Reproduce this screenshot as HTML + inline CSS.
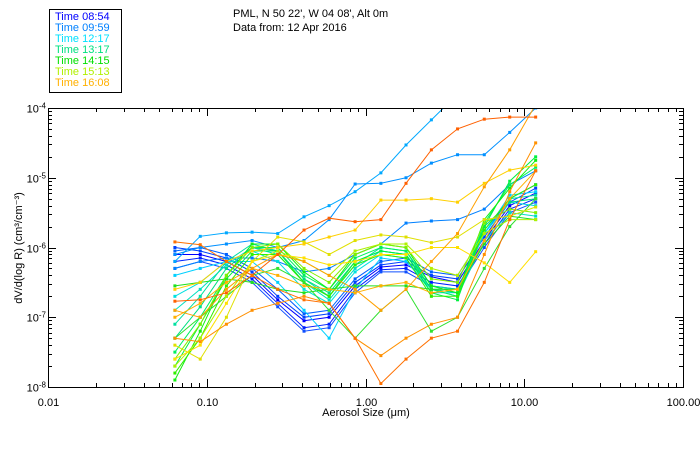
<!DOCTYPE html>
<html><head><meta charset="utf-8"><style>
body{margin:0;background:#fff;width:700px;height:450px;overflow:hidden;font-family:"Liberation Sans",sans-serif}
svg text{font-family:"Liberation Sans",sans-serif;font-size:11px}
</style></head><body>
<svg id="chart" width="700" height="450">
<g>
<rect x="49.5" y="9.5" width="72" height="83" fill="#fff" stroke="#000"/>
<text x="55" y="20" fill="#0000ff">Time 08:54</text>
<text x="55" y="31" fill="#0080ff">Time 09:59</text>
<text x="55" y="42" fill="#00e0ff">Time 12:17</text>
<text x="55" y="53" fill="#00e080">Time 13:17</text>
<text x="55" y="64" fill="#00e000">Time 14:15</text>
<text x="55" y="75" fill="#b0f000">Time 15:13</text>
<text x="55" y="86" fill="#ffb000">Time 16:08</text>
</g>
<text x="233" y="17">PML, N 50 22', W 04 08', Alt 0m</text>
<text x="233" y="31">Data from: 12 Apr 2016</text>
<defs><clipPath id="pc"><rect x="48" y="108" width="635" height="279"/></clipPath></defs>
<g id="series" clip-path="url(#pc)"></g>
<g id="axes"></g>
<text x="366" y="416" text-anchor="middle">Aerosol Size (μm)</text>
<text transform="translate(22,248) rotate(-90)" text-anchor="middle">dV/d(log R) (cm³/cm⁻³)</text>
</svg>
<script>
const sizes=[0.063,0.091,0.133,0.193,0.28,0.41,0.59,0.86,1.25,1.8,2.6,3.8,5.6,8.1,11.8];
const xTicks=[0.01,0.1,1,10,100];
const xTickLabels=["0.01","0.10","1.00","10.00","100.00"];
const yTickExp=[-8,-7,-6,-5,-4];
const colors=["#0000ff","#0020ff","#0040ff","#1050ff","#0060ff","#00a8ff","#0090ff","#0080ff","#00d0ff","#00e0e0","#00e0c0","#00e0a0","#00e080","#00f060","#00f040","#10f010","#30f000","#20e020","#30e030","#80f000","#b0f000","#e0e000","#ffe000","#ffd000","#ffb000","#ffa000","#ff9000","#ff6000","#ff7000"];
const logValues=[
[-6.1,-6.1,-6.2,-6.4,-6.75,-7.05,-7.0,-6.55,-6.28,-6.25,-6.42,-6.5,-5.9,-5.4,-5.22],
[-6.2,-6.15,-6.25,-6.45,-6.8,-7.15,-7.1,-6.6,-6.32,-6.3,-6.5,-6.55,-5.95,-5.45,-5.3],
[-6.0,-6.05,-6.15,-6.35,-6.7,-7.0,-6.95,-6.5,-6.25,-6.2,-6.4,-6.45,-5.85,-5.35,-5.15],
[-6.3,-6.2,-6.3,-6.5,-6.85,-7.2,-7.15,-6.65,-6.35,-6.35,-6.55,-6.6,-6.0,-5.5,-5.35],
[-6.05,-6.0,-6.1,-6.3,-6.6,-6.95,-6.9,-6.45,-6.2,-6.15,-6.35,-6.4,-5.8,-5.3,-5.1],
[-6.2,-5.84,-5.79,-5.78,-5.8,-5.56,-5.4,-5.2,-4.93,-4.53,-4.17,-3.8,-3.5,-3.2,-3.0],
[-6.1,-6.0,-5.95,-5.9,-6.0,-5.9,-5.6,-5.09,-5.08,-5.0,-4.79,-4.67,-4.67,-4.35,-4.0],
[-6.3,-6.2,-6.15,-6.15,-6.2,-6.35,-6.3,-6.1,-5.95,-5.65,-5.62,-5.6,-5.45,-5.1,-4.9],
[-6.4,-6.3,-6.2,-6.2,-6.5,-6.9,-7.3,-6.6,-6.15,-6.2,-6.6,-6.6,-5.8,-5.25,-5.2],
[-6.7,-6.5,-6.2,-6.05,-6.2,-6.6,-6.8,-6.35,-6.1,-6.15,-6.65,-6.65,-5.8,-5.35,-5.4],
[-6.9,-6.6,-6.25,-6.0,-6.1,-6.5,-6.75,-6.3,-6.05,-6.1,-6.6,-6.7,-5.9,-5.5,-5.55],
[-7.1,-6.7,-6.2,-5.95,-6.05,-6.45,-6.7,-6.25,-6.0,-6.05,-6.55,-6.6,-5.75,-5.3,-5.25],
[-7.3,-6.85,-6.3,-6.0,-6.05,-6.45,-6.65,-6.2,-6.05,-6.1,-6.6,-6.65,-5.7,-5.35,-5.3],
[-7.5,-7.0,-6.4,-6.0,-6.0,-6.4,-6.6,-6.15,-6.0,-6.05,-6.6,-6.7,-5.65,-5.1,-4.85],
[-7.7,-7.1,-6.45,-6.05,-6.05,-6.5,-6.7,-6.2,-6.05,-6.1,-6.65,-6.75,-5.7,-5.05,-4.7],
[-7.9,-7.2,-6.4,-5.95,-5.95,-6.35,-6.6,-6.1,-5.95,-6.0,-6.55,-6.65,-5.6,-5.15,-4.75],
[-7.8,-7.3,-6.55,-6.1,-6.1,-6.5,-6.7,-6.25,-6.1,-6.15,-6.7,-6.7,-5.75,-5.3,-5.1],
[-6.55,-6.5,-6.45,-6.5,-6.6,-6.65,-6.6,-6.55,-6.55,-6.55,-6.6,-6.6,-5.95,-5.55,-5.6],
[-7.3,-7.0,-6.7,-6.4,-6.3,-6.5,-6.9,-7.3,-6.9,-6.6,-7.2,-7.0,-6.3,-5.7,-5.3],
[-7.6,-7.1,-6.4,-6.0,-5.95,-6.3,-6.5,-6.1,-5.95,-6.0,-6.45,-6.5,-5.65,-5.45,-5.5],
[-7.7,-7.3,-6.7,-6.2,-6.05,-6.2,-6.4,-6.05,-5.95,-5.95,-6.3,-6.4,-5.8,-5.6,-5.6],
[-7.4,-7.6,-7.0,-6.2,-5.85,-5.92,-6.1,-5.9,-5.82,-5.85,-5.93,-5.85,-5.6,-5.55,-5.42],
[-7.6,-7.4,-6.8,-6.2,-6.1,-6.15,-6.25,-6.2,-6.1,-6.1,-6.0,-6.0,-6.22,-6.5,-6.06],
[-6.6,-6.5,-6.2,-6.05,-6.0,-5.95,-5.85,-5.75,-5.32,-5.32,-5.3,-5.35,-5.08,-4.89,-4.82],
[-7.0,-6.8,-6.5,-6.3,-6.4,-6.55,-6.6,-6.65,-6.55,-6.5,-6.65,-6.6,-5.9,-5.3,-4.9],
[-6.9,-7.0,-6.6,-6.3,-6.1,-6.2,-6.4,-6.6,-6.9,-6.6,-6.2,-5.8,-5.13,-4.6,-3.95],
[-7.3,-7.35,-7.1,-6.9,-6.8,-6.7,-6.8,-7.3,-7.55,-7.3,-7.1,-7.0,-6.1,-5.2,-4.5],
[-6.77,-6.75,-6.65,-6.4,-6.1,-5.75,-5.58,-5.63,-5.6,-5.08,-4.6,-4.3,-4.16,-4.13,-4.13],
[-5.92,-5.96,-6.2,-6.4,-6.6,-6.75,-6.8,-7.3,-7.95,-7.6,-7.3,-7.2,-6.5,-5.6,-4.9]
];
const L=48,R=683,T=108,B=387;
function xs(v){return L+(Math.log10(v)+2)/4*(R-L);}
function ys(e){return B-(e+8)/4*(B-T);}
const NS="http://www.w3.org/2000/svg";
const sg=document.getElementById('series');
logValues.forEach((s,i)=>{
  const g=document.createElementNS(NS,'g');
  
  
  const pts=s.map((v,j)=>xs(sizes[j]).toFixed(1)+','+ys(v).toFixed(1)).join(' ');
  const pl=document.createElementNS(NS,'polyline');
  pl.setAttribute('points',pts);pl.setAttribute('fill','none');pl.setAttribute('stroke',colors[i]);pl.setAttribute('stroke-width','1');
  
  
  g.appendChild(pl);
  s.forEach((v,j)=>{
    const r=document.createElementNS(NS,'rect');
    r.setAttribute('x',xs(sizes[j])-1.5);r.setAttribute('y',ys(v)-1.5);r.setAttribute('width',3);r.setAttribute('height',3);r.setAttribute('fill',colors[i]);
    
    
    g.appendChild(r);
  });
  sg.appendChild(g);
});
const ax=document.getElementById('axes');
function ln(x1,y1,x2,y2){const l=document.createElementNS(NS,'line');l.setAttribute('x1',x1);l.setAttribute('y1',y1);l.setAttribute('x2',x2);l.setAttribute('y2',y2);l.setAttribute('stroke','#000');ax.appendChild(l);}
const fr=document.createElementNS(NS,'rect');
fr.setAttribute('x',L+0.5);fr.setAttribute('y',T+0.5);fr.setAttribute('width',R-L);fr.setAttribute('height',B-T);fr.setAttribute('fill','none');fr.setAttribute('stroke','#000');


ax.appendChild(fr);
xTicks.forEach((t,i)=>{
  const x=Math.round(xs(t))+0.5;
  ln(x,B,x,B-8);ln(x,T,x,T+8);
  if(i<xTicks.length-1)for(let k=2;k<10;k++){const xm=Math.round(xs(t*k))+0.5;ln(xm,B,xm,B-4);ln(xm,T,xm,T+4);}
  const tx=document.createElementNS(NS,'text');
  tx.setAttribute('x',x);tx.setAttribute('y',B+19);tx.setAttribute('text-anchor','middle');tx.textContent=xTickLabels[i];
  
  
  ax.appendChild(tx);
});
yTickExp.forEach((e,i)=>{
  const y=Math.round(ys(e))+0.5;
  ln(L,y,L+8,y);ln(R,y,R-8,y);
  if(i<yTickExp.length-1)for(let k=2;k<10;k++){const ym=Math.round(ys(e+Math.log10(k)))+0.5;ln(L,ym,L+4,ym);ln(R,ym,R-4,ym);}
  const tx=document.createElementNS(NS,'text');
  tx.setAttribute('x',L-2);tx.setAttribute('y',y+4);tx.setAttribute('text-anchor','end');
  tx.innerHTML='10<tspan dy="-4" font-size="8">'+e+'</tspan>';
  
  
  ax.appendChild(tx);
});
</script>
</body></html>
